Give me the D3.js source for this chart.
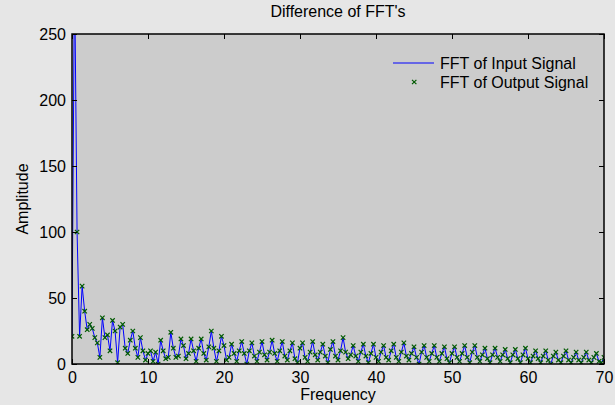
<!DOCTYPE html>
<html>
<head>
<meta charset="utf-8">
<script src="https://cdn.jsdelivr.net/npm/d3@7"></script>
<style>
  body { margin: 0; background: #e6e6e6; }
  text { font-family: Arial, "Liberation Sans", sans-serif; fill: #000; }
</style>
</head>
<body>
<svg id="vis-svg" width="615" height="405"></svg>
<script>
// frequency step of the FFT bins (Hz)
const df = 1 / 3

// amplitude of the input signal FFT, one value per bin
const inputAmp = [
  21, 300, 100, 21, 59, 40, 26, 30, 27, 20, 16, 5, 35, 20, 22, 10, 33, 25, 1, 28,
  30, 12, 8, 18, 25, 12, 5, 20, 10, 3, 8, 10, 2, 9, 0, 18, 10, 4, 5, 24,
  12, 5, 6, 19, 14, 4, 8, 19, 10, 2, 12, 19, 8, 3, 13, 25, 12, 2, 10, 21,
  14, 3, 5, 15, 8, 2, 10, 17, 8, 0, 10, 16, 6, 2, 9, 17, 7, 3, 9, 18,
  8, 2, 10, 17, 6, 3, 10, 16, 4, 1, 12, 16, 5, 2, 9, 17, 7, 3, 9, 15,
  6, 1, 11, 17, 6, 3, 10, 20, 9, 4, 7, 14, 6, 2, 9, 15, 6, 1, 8, 15,
  5, 2, 9, 14, 5, 3, 10, 15, 5, 2, 9, 16, 6, 3, 8, 13, 5, 0, 9, 14,
  5, 2, 8, 14, 5, 2, 8, 13, 4, 1, 8, 13, 5, 2, 8, 14, 5, 1, 9, 14,
  5, 2, 7, 12, 4, 1, 7, 12, 5, 2, 7, 11, 4, 1, 7, 11, 4, 1, 7, 12,
  4, 1, 6, 10, 4, 1, 6, 10, 3, 0, 6, 9, 3, 1, 6, 10, 3, 1, 5, 9,
  3, 1, 5, 9, 3, 1, 5, 8, 2, 1, 5
]
// output signal FFT is identical to the input (difference is zero)
const outputAmp = inputAmp.slice()

const xTicks = [0, 10, 20, 30, 40, 50, 60, 70]
const yTicks = [0, 50, 100, 150, 200, 250]

const margin = { left: 72, right: 11, top: 34, bottom: 41 }
const W = 615, H = 405
const iw = W - margin.left - margin.right
const ih = H - margin.top - margin.bottom
const fs = 16

const svg = d3.select("#vis-svg")

const x = d3.scaleLinear().domain([0, 70]).range([0, iw])
const y = d3.scaleLinear().domain([0, 250]).range([ih, 0])

const g = svg.append("g").attr("transform", `translate(${margin.left},${margin.top})`)

g.append("rect").attr("width", iw).attr("height", ih).attr("fill", "#cccccc")

g.append("clipPath").attr("id", "clip")
  .append("rect").attr("width", iw).attr("height", ih)

const pts = inputAmp.map((v, i) => ({ f: i * df, v }))
const ptsOut = outputAmp.map((v, i) => ({ f: i * df, v }))

const plot = g.append("g").attr("clip-path", "url(#clip)")

plot.append("path")
  .datum(pts)
  .attr("fill", "none")
  .attr("stroke", "#0000ff")
  .attr("stroke-width", 1)
  .attr("d", d3.line().x(d => x(d.f)).y(d => y(d.v)))

const mk = 2.2
plot.selectAll("path.mark")
  .data(ptsOut)
  .enter().append("path")
  .attr("class", "mark")
  .attr("stroke", "#005a00")
  .attr("stroke-width", 1.2)
  .attr("d", d => {
    const cx = x(d.f), cy = y(d.v)
    return `M${cx - mk},${cy - mk}L${cx + mk},${cy + mk}M${cx - mk},${cy + mk}L${cx + mk},${cy - mk}`
  })

// axes, ticks pointing inward on all four sides
const tl = 5
const styleAxis = sel => {
  sel.select(".domain").remove()
  sel.selectAll(".tick line").attr("stroke", "#000")
  sel.selectAll(".tick text").attr("font-size", fs).attr("font-family", "Arial, 'Liberation Sans', sans-serif")
}

g.append("g").attr("transform", `translate(0,${ih})`)
  .call(d3.axisBottom(x).tickValues(xTicks).tickSize(-tl).tickPadding(8).tickFormat(d3.format("d")))
  .call(styleAxis)
g.append("g")
  .call(d3.axisTop(x).tickValues(xTicks).tickSize(-tl).tickFormat(""))
  .call(styleAxis)
g.append("g")
  .call(d3.axisLeft(y).tickValues(yTicks).tickSize(-tl).tickPadding(6).tickFormat(d3.format("d")))
  .call(styleAxis)
g.append("g").attr("transform", `translate(${iw},0)`)
  .call(d3.axisRight(y).tickValues(yTicks).tickSize(-tl).tickFormat(""))
  .call(styleAxis)

g.append("rect").attr("width", iw).attr("height", ih)
  .attr("fill", "none").attr("stroke", "#000").attr("stroke-width", 1.5)

// labels
svg.append("text").attr("x", margin.left + iw / 2).attr("y", 17)
  .attr("text-anchor", "middle").attr("font-size", fs).text("Difference of FFT's")
svg.append("text").attr("x", margin.left + iw / 2).attr("y", 400)
  .attr("text-anchor", "middle").attr("font-size", fs).text("Frequency")
svg.append("text").attr("transform", `translate(28,${margin.top + ih / 2}) rotate(-90)`)
  .attr("text-anchor", "middle").attr("font-size", fs).text("Amplitude")

// legend
const lg = svg.append("g").attr("transform", "translate(393,63)")
lg.append("line").attr("x1", 0).attr("x2", 41).attr("y1", 0).attr("y2", 0)
  .attr("stroke", "#0000ff").attr("stroke-width", 1)
lg.append("text").attr("x", 47).attr("y", 5.5).attr("font-size", fs).text("FFT of Input Signal")
lg.append("path")
  .attr("d", `M${19},${19 - mk}L${19 + 2 * mk},${19 + mk}M${19},${19 + mk}L${19 + 2 * mk},${19 - mk}`)
  .attr("stroke", "#005a00").attr("stroke-width", 1.2)
lg.append("text").attr("x", 47).attr("y", 24.5).attr("font-size", fs).text("FFT of Output Signal")
</script>
</body>
</html>
